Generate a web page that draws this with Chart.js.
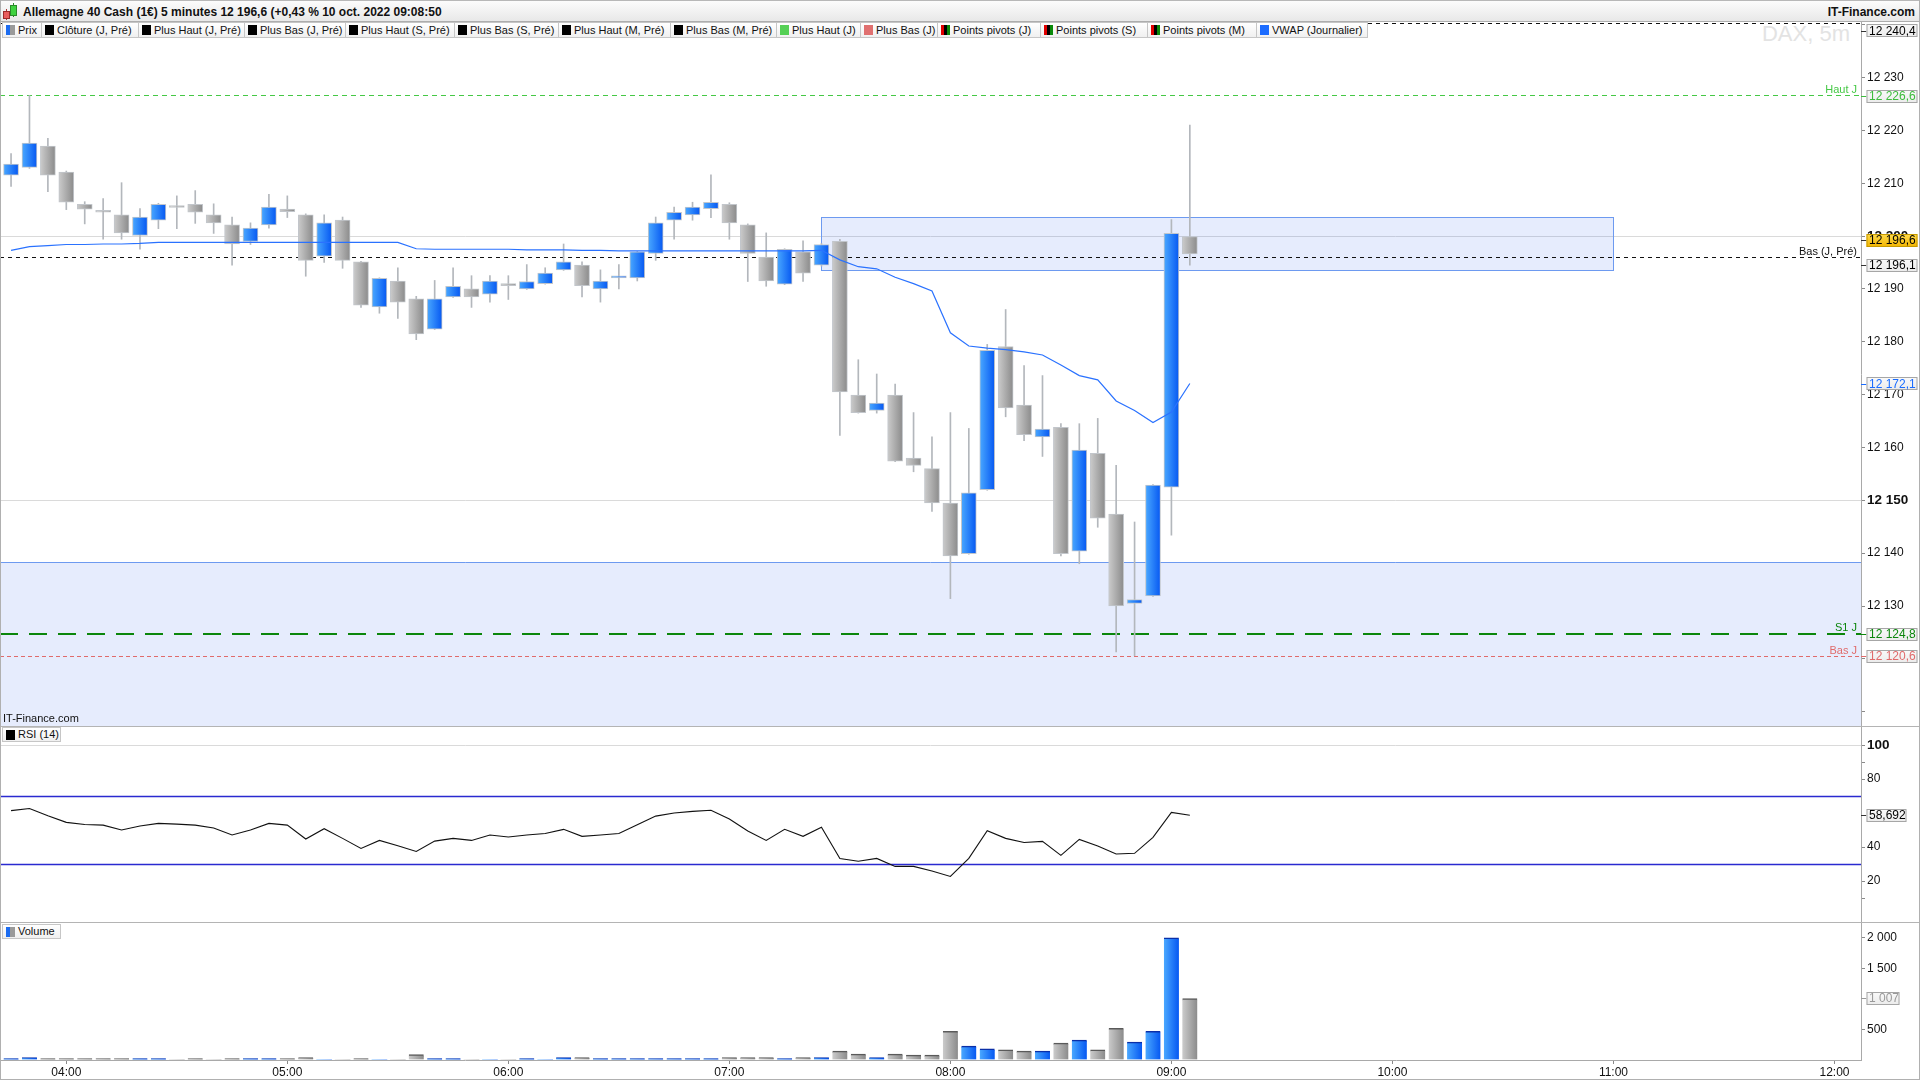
<!DOCTYPE html>
<html><head><meta charset="utf-8">
<script src="https://cdn.jsdelivr.net/npm/chart.js"></script>
<style>
html,body{margin:0;padding:0;}
body{width:1920px;height:1080px;position:relative;overflow:hidden;background:#fff;font-family:"Liberation Sans",Arial,sans-serif;color:#111;}
#titlebar{position:absolute;left:0;top:0;width:1920px;height:22px;box-sizing:border-box;background:linear-gradient(#fcfcfc,#e8e8e8);border-top:1px solid #b8b8b8;border-bottom:1px solid #adadad;}
#title{position:absolute;left:23px;top:4px;font-weight:bold;font-size:12px;line-height:14px;white-space:nowrap;}
#brand{position:absolute;right:5px;top:4px;font-weight:bold;font-size:12px;line-height:14px;white-space:nowrap;}
.ic{position:absolute;box-sizing:border-box;}
.wrap{position:absolute;left:0;width:1920px;}
canvas{display:block;}
#legend{position:absolute;left:2px;top:22px;height:16px;display:flex;z-index:5;}
.li{box-sizing:border-box;height:16px;border:1px solid #c6c6c6;border-left-width:0;background:linear-gradient(#ffffff,#f0f0f0);font-size:11px;line-height:14px;white-space:nowrap;padding-left:3px;display:flex;align-items:center;overflow:hidden;}
.li:first-child{border-left-width:1px;}
.sw{width:9px;height:10px;margin-right:3px;flex:none;}
.plab{position:absolute;left:2px;height:15px;width:59px;box-sizing:border-box;border:1px solid #c6c6c6;background:linear-gradient(#ffffff,#f0f0f0);font-size:11px;line-height:13px;display:flex;align-items:center;padding-left:3px;z-index:5;white-space:nowrap;}
#wm{position:absolute;right:70px;top:22px;font-size:22px;line-height:24px;color:#e3e3e3;white-space:nowrap;}
#src{position:absolute;left:3px;top:712px;font-size:11px;line-height:13px;z-index:5;}
#frame{position:absolute;left:0;top:0;width:1920px;height:1080px;box-sizing:border-box;border-left:1px solid #b0b0b0;border-right:1px solid #b0b0b0;border-bottom:1px solid #b0b0b0;pointer-events:none;z-index:9;}
</style>
</head>
<body>
<div id="titlebar">
  <div class="ic" style="left:6px;top:8px;width:1px;height:11px;background:#a33;"></div>
  <div class="ic" style="left:3px;top:10px;width:7px;height:8px;background:#e85c5c;border:1px solid #9a2a2a;"></div>
  <div class="ic" style="left:13px;top:2px;width:1px;height:14px;background:#2a8a2a;"></div>
  <div class="ic" style="left:10px;top:4px;width:7px;height:11px;background:#3fd23f;border:1px solid #2a8a2a;"></div>
  <div id="title">Allemagne 40 Cash (1€) 5 minutes 12 196,6 (+0,43 % 10 oct. 2022 09:08:50</div>
  <div id="brand">IT-Finance.com</div>
</div>
<div id="wm">DAX, 5m</div>
<div class="wrap" style="top:22px;height:704px;"><canvas id="cMain" width="1920" height="704"></canvas></div>
<div class="wrap" style="top:726px;height:196px;"><canvas id="cRsi" width="1920" height="196"></canvas></div>
<div class="wrap" style="top:922px;height:158px;"><canvas id="cVol" width="1920" height="158"></canvas></div>
<div id="legend"></div>
<div id="src">IT-Finance.com</div>
<div class="plab" style="top:727px;"><span class="sw" style="background:#000;"></span>RSI (14)</div>
<div class="plab" style="top:924px;"><span class="sw" style="background:linear-gradient(90deg,#1c6cf0 0,#1c6cf0 45%,#9a9a9a 45%,#9a9a9a 100%);"></span>Volume</div>
<div id="frame"></div>
<script>
// ---------------- DATA ----------------
const times = ["03:45","03:50","03:55","04:00","04:05","04:10","04:15","04:20","04:25","04:30",
  "04:35","04:40","04:45","04:50","04:55","05:00","05:05","05:10","05:15","05:20",
  "05:25","05:30","05:35","05:40","05:45","05:50","05:55","06:00","06:05","06:10",
  "06:15","06:20","06:25","06:30","06:35","06:40","06:45","06:50","06:55","07:00",
  "07:05","07:10","07:15","07:20","07:25","07:30","07:35","07:40","07:45","07:50",
  "07:55","08:00","08:05","08:10","08:15","08:20","08:25","08:30","08:35","08:40",
  "08:45","08:50","08:55","09:00","09:05"];
const opens = [12211.5,12213.0,12217.0,12212.1,12206.0,12204.6,12204.0,12200.1,12203.0,12205.5,
  12206.0,12204.0,12202.1,12199.0,12202.1,12205.1,12204.0,12196.2,12203.0,12195.1,
  12186.6,12191.5,12188.1,12182.4,12188.5,12190.0,12189.0,12191.0,12190.0,12191.0,
  12193.6,12194.5,12190.0,12192.1,12192.1,12196.7,12203.0,12204.0,12205.2,12206.0,
  12202.1,12196.0,12190.9,12197.0,12194.5,12199.0,12169.9,12167.0,12169.9,12158.0,
  12156.0,12149.5,12139.9,12152.0,12179.1,12168.0,12162.0,12163.8,12140.4,12158.9,
  12147.4,12130.5,12131.9,12152.5,12199.9];
const highs = [12215.6,12226.6,12218.5,12212.3,12206.5,12207.1,12210.1,12205.2,12206.2,12207.6,
  12208.6,12206.1,12203.6,12202.5,12207.9,12207.6,12204.2,12204.0,12203.6,12195.2,
  12192.1,12194.0,12188.6,12191.6,12194.0,12192.5,12192.5,12192.5,12194.6,12194.0,
  12198.5,12195.1,12193.6,12194.6,12197.1,12203.6,12205.5,12206.4,12211.6,12206.3,
  12202.3,12200.6,12197.6,12199.1,12198.6,12199.4,12176.6,12173.9,12172.0,12166.6,
  12162.0,12166.6,12163.6,12179.5,12186.1,12175.5,12173.6,12164.5,12164.5,12165.5,
  12156.6,12145.9,12153.0,12203.1,12221.0];
const lows = [12209.4,12212.8,12208.4,12205.0,12202.3,12199.4,12199.4,12197.5,12201.4,12201.4,
  12202.4,12200.5,12194.5,12198.4,12201.5,12203.5,12192.4,12195.0,12193.9,12186.5,
  12185.4,12184.4,12180.4,12182.3,12188.4,12186.5,12187.5,12188.0,12189.9,12190.9,
  12193.5,12188.5,12187.5,12190.0,12191.5,12195.4,12199.4,12203.0,12203.5,12199.4,
  12191.4,12190.5,12190.8,12191.4,12194.3,12162.3,12166.5,12166.5,12157.3,12155.4,
  12147.9,12131.4,12139.8,12151.9,12165.8,12161.3,12158.3,12139.5,12138.0,12144.9,
  12121.3,12120.6,12131.8,12143.4,12194.5];
const closes = [12213.6,12217.6,12211.5,12206.4,12205.1,12204.5,12200.6,12203.6,12206.0,12205.4,
  12204.5,12202.5,12198.5,12201.5,12205.5,12204.6,12195.4,12202.5,12195.4,12186.9,
  12192.0,12187.5,12181.5,12188.1,12190.5,12188.5,12191.5,12190.6,12191.4,12193.0,
  12195.1,12190.6,12191.5,12192.4,12197.0,12202.5,12204.5,12205.5,12206.4,12202.5,
  12196.7,12191.5,12197.5,12193.0,12198.4,12170.5,12166.6,12168.4,12157.4,12156.6,
  12149.5,12139.5,12151.4,12178.4,12167.5,12162.4,12163.5,12139.9,12159.5,12146.6,
  12130.0,12131.2,12152.9,12200.5,12196.6];
const vwap = [12197.3,12198.0,12198.2,12198.4,12198.4,12198.5,12198.5,12198.6,12198.8,12198.8,
  12198.8,12198.8,12198.8,12198.8,12198.8,12198.8,12198.8,12198.8,12198.8,12198.8,
  12198.8,12198.8,12197.6,12197.5,12197.5,12197.5,12197.5,12197.5,12197.4,12197.4,
  12197.4,12197.3,12197.3,12197.2,12197.2,12197.2,12197.2,12197.2,12197.2,12197.2,
  12197.2,12197.2,12197.2,12197.2,12197.3,12195.5,12194.2,12193.8,12192.2,12191.0,
  12189.6,12181.7,12179.2,12178.8,12178.5,12178.1,12177.5,12175.6,12173.6,12172.8,
  12168.8,12167.0,12164.7,12166.7,12172.1];
const rsi = [61.4,62.7,58.4,54.5,53.3,52.9,50.0,52.4,53.9,53.5,
  52.9,51.2,47.1,50.0,53.9,52.9,44.7,50.8,45.1,39.2,
  43.9,40.8,37.4,43.5,45.1,43.9,47.1,45.9,47.1,48.0,
  50.4,46.3,47.1,48.0,53.1,58.2,60.0,61.0,61.6,56.5,
  49.4,43.9,50.4,46.3,51.6,33.3,31.6,33.3,28.6,28.6,
  25.9,22.7,33.3,49.6,45.1,42.7,43.3,35.1,44.5,40.6,
  35.9,36.3,45.7,60.4,58.692];
const volumes = [22,38,22,22,22,22,22,22,22,0,
  22,0,22,22,22,22,38,0,0,22,
  0,0,87,22,22,0,0,0,22,0,
  38,38,22,22,22,22,22,22,22,38,
  38,38,22,38,38,146,97,38,97,81,
  81,471,227,184,168,146,146,276,325,168,
  519,292,471,1997,1007];
const legendItems = ["Prix","Clôture (J, Pré)","Plus Haut (J, Pré)","Plus Bas (J, Pré)","Plus Haut (S, Pré)","Plus Bas (S, Pré)","Plus Haut (M, Pré)","Plus Bas (M, Pré)","Plus Haut (J)","Plus Bas (J)","Points pivots (J)","Points pivots (S)","Points pivots (M)","VWAP (Journalier)"];
const xTickLabels = ["04:00","05:00","06:00","07:00","08:00","09:00","10:00","11:00","12:00"];
const volTickLabels = [500, 1500, 2000];
const rsiTickLabels = [20, 40, 80, 100];
// levels
const prevDayHigh = 12240.4;
const dayHigh = 12226.6;
const prevDayLow = 12196.1;
const pivotS1 = 12124.8;
const dayLow = 12120.6;
const lastPrice = 12196.6;
const zoneTimes = ["07:25","11:00"];
const zonePrices = [12193.6,12203.6];
const lowerZoneTop = 12138.3;
const rsiUpper = 70, rsiLower = 30;
const priceRange = [12107.3, 12240.5];
const rsiRange = [-4.1, 111.2];
const volRange = [0, 2258];
const timeRange = ["03:42","12:07.2"];

// ---------------- HELPERS ----------------
const toMin = t => { const p = t.split(':'); return (+p[0]) * 60 + parseFloat(p[1]); };
const xs = times.map(toMin);
const up = closes.map((c, i) => c >= opens[i]);
const xMin = toMin(timeRange[0]), xMax = toMin(timeRange[1]);
const grp = s => s.replace(/\B(?=(\d{3})+(?!\d))/g, ' ');
const fmt = (v, d) => { const p = v.toFixed(d).split('.'); return grp(p[0]) + (p[1] ? ',' + p[1] : ''); };
const hhmm = m => String(Math.floor(m / 60)).padStart(2, '0') + ':' + String(Math.round(m % 60)).padStart(2, '0');
const FONT = '"Liberation Sans", Arial, sans-serif';
Chart.defaults.font.family = FONT;
Chart.defaults.font.size = 12;
Chart.defaults.color = '#111';

(function () {
  const widths = [40, 97, 106, 101, 109, 104, 112, 106, 84, 77, 103, 107, 109, 111];
  const piv = 'linear-gradient(90deg,#e00000 0,#e00000 33%,#000 33%,#000 66%,#0a8a0a 66%)';
  const sw = ['linear-gradient(90deg,#1c6cf0 0,#1c6cf0 45%,#9a9a9a 45%,#9a9a9a 100%)', '#000', '#000', '#000', '#000', '#000', '#000', '#000', '#55d055', '#e07070', piv, piv, piv, '#1c6cff'];
  const lg = document.getElementById('legend');
  legendItems.forEach((t, i) => {
    const d = document.createElement('div'); d.className = 'li'; d.style.width = widths[i] + 'px';
    const s = document.createElement('span'); s.className = 'sw'; s.style.background = sw[i];
    d.appendChild(s); d.appendChild(document.createTextNode(t)); lg.appendChild(d);
  });
})();

function gradFill(ctx, isUp, halfW) {
  const chart = ctx.chart;
  if (!ctx.raw || !chart.scales || !chart.scales.x) return isUp ? '#1c7cff' : '#a8a8a8';
  const cx = chart.scales.x.getPixelForValue(ctx.raw.x);
  if (!isFinite(cx)) return isUp ? '#1c7cff' : '#a8a8a8';
  const g = chart.ctx.createLinearGradient(cx - halfW, 0, cx + halfW, 0);
  if (isUp) { g.addColorStop(0, '#4aa8ff'); g.addColorStop(1, '#0658f2'); }
  else { g.addColorStop(0, '#cbcbcb'); g.addColorStop(1, '#8b8b8b'); }
  return g;
}

function valueBox(chart, yc, text, color, w, gold) {
  const c = chart.ctx, x0 = chart.chartArea.right + 5.5, h = 13;
  c.save();
  c.strokeStyle = color === '#000' ? '#333' : color; c.lineWidth = 1;
  c.beginPath(); c.moveTo(chart.chartArea.right, Math.round(yc) + 0.5); c.lineTo(x0, Math.round(yc) + 0.5); c.stroke();
  const g = c.createLinearGradient(0, yc - h / 2, 0, yc + h / 2);
  if (gold) { g.addColorStop(0, '#ffdc4d'); g.addColorStop(1, '#f2b400'); }
  else { g.addColorStop(0, '#fafafa'); g.addColorStop(1, '#ebebeb'); }
  c.fillStyle = g;
  c.fillRect(x0, Math.round(yc - h / 2), w, h);
  c.strokeStyle = gold ? '#c79a00' : '#a6a6a6';
  c.strokeRect(x0 + 0.5, Math.round(yc - h / 2) + 0.5, w - 1, h - 1);
  c.fillStyle = color; c.font = '12px ' + FONT; c.textBaseline = 'middle'; c.textAlign = 'left';
  c.fillText(text, x0 + 2.5, Math.round(yc) + 0.5);
  c.restore();
}

function yAxisBase(min, max, step, labelFn, boldFn, tickShow, gridFn) {
  return {
    type: 'linear', position: 'right', min: min, max: max,
    afterFit(s) { s.width = 59; s.paddingTop = 0; s.paddingBottom = 0; },
    border: { display: true, color: '#a9a9a9', width: 1 },
    grid: {
      drawOnChartArea: true, drawTicks: true, tickLength: 4, lineWidth: 1,
      color: c => (c.tick && gridFn(c.tick.value)) ? '#dadada' : 'rgba(0,0,0,0)',
      tickColor: c => (c.tick && tickShow(c.tick.value)) ? '#8a8a8a' : 'rgba(0,0,0,0)'
    },
    ticks: {
      stepSize: step, includeBounds: false, autoSkip: false, padding: 2, color: '#111',
      font: c => (c.tick && boldFn(c.tick.value)) ? { family: FONT, size: 13.5, weight: 'bold' } : { family: FONT, size: 12, weight: 'normal' },
      callback: v => labelFn(v)
    }
  };
}
const hiddenX = () => ({ type: 'linear', min: xMin, max: xMax, offset: false, grid: { offset: false }, display: false });
const baseOpts = () => ({ responsive: false, animation: false, devicePixelRatio: 1, events: [], plugins: { legend: { display: false }, tooltip: { enabled: false } }, layout: { padding: 0 } });

// ---------------- MAIN PRICE CHART ----------------
const mainOverlay = {
  id: 'mainOverlay',
  beforeDatasetsDraw(chart) {
    const c = chart.ctx, a = chart.chartArea, y = chart.scales.y, x = chart.scales.x;
    c.save();
    const lz = Math.round(y.getPixelForValue(lowerZoneTop)) + 0.5;
    c.fillStyle = 'rgba(60,110,240,0.13)';
    c.fillRect(a.left, lz, a.right - a.left, a.bottom - lz);
    c.strokeStyle = '#6d9af0'; c.lineWidth = 1;
    c.beginPath(); c.moveTo(a.left, lz); c.lineTo(a.right, lz); c.stroke();
    const bx0 = Math.round(x.getPixelForValue(toMin(zoneTimes[0]))) + 0.5, bx1 = Math.round(x.getPixelForValue(toMin(zoneTimes[1]))) + 0.5;
    const by0 = Math.round(y.getPixelForValue(zonePrices[1])) + 0.5, by1 = Math.round(y.getPixelForValue(zonePrices[0])) + 0.5;
    c.fillRect(bx0, by0, bx1 - bx0, by1 - by0);
    c.strokeRect(bx0, by0, bx1 - bx0, by1 - by0);
    const levels = [
      { v: prevDayHigh, color: '#111', dash: [4, 4], w: 1 },
      { v: dayHigh, color: '#45c845', dash: [5, 4], w: 1, label: 'Haut J' },
      { v: prevDayLow, color: '#111', dash: [4, 4], w: 1, label: 'Bas (J, Pré)' },
      { v: pivotS1, color: '#0b860b', dash: [18, 11], w: 2, label: 'S1 J' },
      { v: dayLow, color: '#e06b6b', dash: [4, 3], w: 1, label: 'Bas J' }
    ];
    levels.forEach(l => {
      const py = Math.round(y.getPixelForValue(l.v)) + (l.w === 1 ? 0.5 : 0);
      c.setLineDash(l.dash); c.strokeStyle = l.color; c.lineWidth = l.w;
      c.beginPath(); c.moveTo(a.left, py); c.lineTo(a.right, py); c.stroke();
      if (l.label) {
        c.setLineDash([]); c.fillStyle = l.color; c.font = '11px ' + FONT; c.textAlign = 'right'; c.textBaseline = 'alphabetic';
        c.fillText(l.label, a.right - 4, py - 3);
      }
    });
    c.restore();
  },
  afterDraw(chart) {
    const y = chart.scales.y, a = chart.chartArea;
    valueBox(chart, Math.max(y.getPixelForValue(prevDayHigh), a.top + 8.5), fmt(prevDayHigh, 1), '#000', 51);
    valueBox(chart, y.getPixelForValue(dayHigh) + 1, fmt(dayHigh, 1), '#3cbc3c', 51);
    valueBox(chart, y.getPixelForValue(lastPrice) - 13.6, fmt(lastPrice, 1), '#000', 51, true);
    valueBox(chart, y.getPixelForValue(prevDayLow) + 8.6, fmt(prevDayLow, 1), '#000', 51);
    valueBox(chart, y.getPixelForValue(vwap[vwap.length - 1]), fmt(vwap[vwap.length - 1], 1), '#1a6cff', 51);
    valueBox(chart, y.getPixelForValue(pivotS1) + 0.5, fmt(pivotS1, 1), '#0b860b', 51);
    valueBox(chart, y.getPixelForValue(dayLow) + 0.5, fmt(dayLow, 1), '#e06b6b', 51);
  }
};

new Chart(document.getElementById('cMain'), {
  type: 'bar',
  data: {
    datasets: [
      { type: 'line', data: xs.map((x, i) => ({ x: x, y: vwap[i] })), borderColor: '#2a72ff', borderWidth: 1.2, pointRadius: 0, tension: 0, order: 1 },
      { type: 'bar', data: xs.map((x, i) => ({ x: x, y: [opens[i], closes[i]] })), barThickness: 15, grouped: false,
        backgroundColor: c => gradFill(c, up[c.dataIndex], 7.5), borderColor: '#c2c6cb', borderWidth: 1, borderSkipped: false, minBarLength: 2, order: 2 },
      { type: 'bar', data: xs.map((x, i) => ({ x: x, y: [lows[i], highs[i]] })), barThickness: 1, grouped: false,
        backgroundColor: '#b3b7bc', borderWidth: 0, order: 3 }
    ]
  },
  options: Object.assign(baseOpts(), {
    scales: {
      x: hiddenX(),
      y: yAxisBase(priceRange[0], priceRange[1], 10,
        v => (v >= 12130 && v <= 12230) ? grp(String(Math.round(v))) : '',
        v => Math.round(v) % 50 === 0,
        v => true,
        v => Math.round(v) % 50 === 0)
    }
  }),
  plugins: [mainOverlay]
});

// ---------------- RSI CHART ----------------
const rsiOverlay = {
  id: 'rsiOverlay',
  beforeDatasetsDraw(chart) {
    const c = chart.ctx, a = chart.chartArea, y = chart.scales.y;
    c.save();
    c.strokeStyle = '#2a2ad0'; c.lineWidth = 1.5;
    [rsiUpper, rsiLower].forEach(v => { const py = Math.round(y.getPixelForValue(v)) + 0.5; c.beginPath(); c.moveTo(a.left, py); c.lineTo(a.right, py); c.stroke(); });
    c.restore();
  },
  afterDraw(chart) {
    const c = chart.ctx;
    c.save(); c.strokeStyle = '#b4b4b4'; c.lineWidth = 1; c.beginPath(); c.moveTo(0, 0.5); c.lineTo(chart.width, 0.5); c.stroke(); c.restore();
    valueBox(chart, chart.scales.y.getPixelForValue(rsi[rsi.length - 1]), fmt(rsi[rsi.length - 1], 3), '#000', 40);
  }
};
new Chart(document.getElementById('cRsi'), {
  type: 'line',
  data: { datasets: [{ data: xs.map((x, i) => ({ x: x, y: rsi[i] })), borderColor: '#111', borderWidth: 1.1, pointRadius: 0, tension: 0 }] },
  options: Object.assign(baseOpts(), {
    scales: {
      x: hiddenX(),
      y: yAxisBase(rsiRange[0], rsiRange[1], 10,
        v => rsiTickLabels.includes(Math.round(v)) ? String(Math.round(v)) : '',
        v => Math.round(v) === 100,
        v => [10, 20, 40, 80, 90, 100].includes(Math.round(v)),
        v => Math.round(v) === 100)
    }
  }),
  plugins: [rsiOverlay]
});

// ---------------- VOLUME CHART ----------------
const volOverlay = {
  id: 'volOverlay',
  afterDraw(chart) {
    const c = chart.ctx;
    c.save(); c.strokeStyle = '#b4b4b4'; c.lineWidth = 1; c.beginPath(); c.moveTo(0, 0.5); c.lineTo(chart.width, 0.5); c.stroke(); c.restore();
    valueBox(chart, chart.scales.y.getPixelForValue(volumes[volumes.length - 1]), grp(String(volumes[volumes.length - 1])), '#9a9a9a', 33);
  }
};
const volY = yAxisBase(volRange[0], volRange[1], 100,
  v => volTickLabels.includes(Math.round(v)) ? grp(String(Math.round(v))) : '',
  v => false,
  v => Math.round(v) > 0 && Math.round(v) % 500 === 0,
  v => false);
new Chart(document.getElementById('cVol'), {
  type: 'bar',
  data: {
    datasets: [{
      data: xs.map((x, i) => ({ x: x, y: volumes[i] })), barThickness: 15, grouped: false,
      backgroundColor: c => gradFill(c, up[c.dataIndex], 7.5),
      borderColor: c => up[c.dataIndex] ? '#0a2fa8' : '#5a5a5a',
      borderWidth: { top: 1.5, left: 0, right: 0, bottom: 0 }, borderSkipped: 'start'
    }]
  },
  options: Object.assign(baseOpts(), {
    scales: {
      x: {
        type: 'linear', position: 'bottom', min: xMin, max: xMax, offset: false,
        afterFit(s) { s.height = 20; s.paddingLeft = 0; s.paddingRight = 0; },
        border: { display: true, color: '#a9a9a9' },
        grid: { offset: false, drawOnChartArea: false, drawTicks: true, tickLength: 4, tickColor: '#8a8a8a' },
        ticks: {
          stepSize: 60, includeBounds: false, autoSkip: false, maxRotation: 0, padding: 1, color: '#111', font: { family: FONT, size: 12 },
          callback: v => xTickLabels.includes(hhmm(v)) ? hhmm(v) : ''
        }
      },
      y: volY
    }
  }),
  plugins: [volOverlay]
});
</script>
</body></html>
